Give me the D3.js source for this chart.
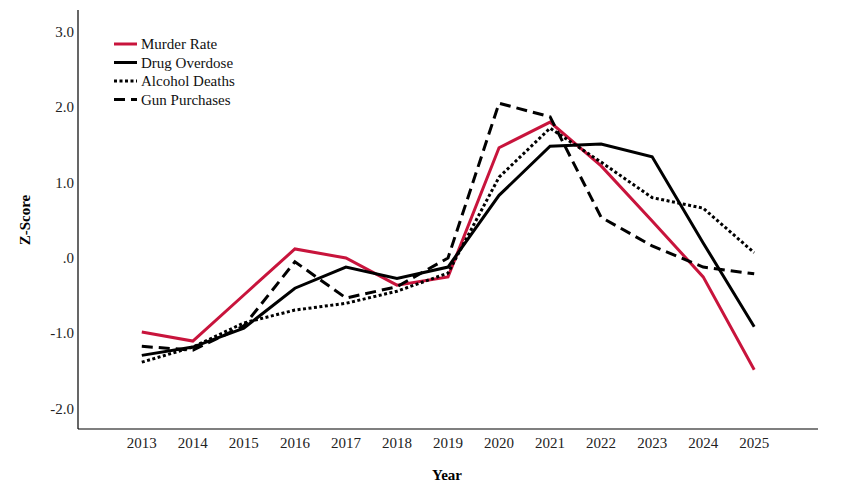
<!DOCTYPE html>
<html>
<head>
    <meta charset="utf-8">
    <script src="https://d3js.org/d3.v7.min.js"></script>
    <style>
        body { margin: 0; background: #fff; }
        text { font-family: "Liberation Serif", "DejaVu Serif", serif; }
    </style>
</head>
<body>
    <svg id="chart" width="853" height="503"></svg>
    <script>
        const years = ["2013", "2014", "2015", "2016", "2017", "2018", "2019", "2020", "2021", "2022", "2023", "2024", "2025"];
        const murderRate = [-0.98, -1.10, -0.49, 0.12, 0.00, -0.36, -0.25, 1.46, 1.80, 1.22, 0.49, -0.25, -1.48];
        const drugOverdose = [-1.29, -1.18, -0.93, -0.40, -0.12, -0.27, -0.12, 0.83, 1.48, 1.51, 1.34, 0.20, -0.91];
        const alcoholDeaths = [-1.38, -1.18, -0.86, -0.69, -0.60, -0.44, -0.20, 1.07, 1.72, 1.27, 0.80, 0.66, 0.07];
        const gunPurchases = [-1.17, -1.22, -0.90, -0.05, -0.53, -0.38, 0.00, 2.05, 1.87, 0.54, 0.16, -0.12, -0.21];
        const yTicks = [-2, -1, 0, 1, 2, 3];

        const series = [
            { name: "Murder Rate", values: murderRate, color: "#c8143c", dash: null },
            { name: "Drug Overdose", values: drugOverdose, color: "#000", dash: null },
            { name: "Alcohol Deaths", values: alcoholDeaths, color: "#000", dash: "3,2.5" },
            { name: "Gun Purchases", values: gunPurchases, color: "#000", dash: "11,6" }
        ];

        const svg = d3.select("#chart");
        const plotL = 78, plotR = 818, plotT = 10, plotB = 429;

        const x = d3.scalePoint().domain(years).range([plotL, plotR]).padding(1.25);
        const y = d3.scaleLinear().domain([-2.265, 3.285]).range([plotB, plotT]);

        // axis lines
        svg.append("line").attr("x1", plotL).attr("x2", plotL).attr("y1", plotT).attr("y2", plotB)
            .attr("stroke", "#000").attr("stroke-width", 1.2);
        svg.append("line").attr("x1", plotL).attr("x2", plotR).attr("y1", plotB).attr("y2", plotB)
            .attr("stroke", "#000").attr("stroke-width", 1.2);

        // SPSS style: ".0" for zero, plain hyphen for negatives
        const fmt = v => v === 0 ? ".0" : v.toFixed(1);

        svg.append("g").selectAll("text").data(yTicks).join("text")
            .attr("x", plotL - 4)
            .attr("y", d => y(d) + 5)
            .attr("text-anchor", "end")
            .attr("font-size", 15)
            .attr("fill", "#222")
            .text(fmt);

        svg.append("g").selectAll("text").data(years).join("text")
            .attr("x", d => x(d))
            .attr("y", 448)
            .attr("text-anchor", "middle")
            .attr("font-size", 15)
            .attr("fill", "#222")
            .text(d => d);

        svg.append("text")
            .attr("x", 447).attr("y", 480)
            .attr("text-anchor", "middle")
            .attr("font-size", 15).attr("font-weight", "bold")
            .text("Year");

        svg.append("text")
            .attr("transform", "translate(30,220) rotate(-90)")
            .attr("text-anchor", "middle")
            .attr("font-size", 15).attr("font-weight", "bold")
            .text("Z-Score");

        const lineGen = d3.line()
            .x((d, i) => x(years[i]))
            .y(d => y(d));

        svg.append("g").selectAll("path").data(series).join("path")
            .attr("d", d => lineGen(d.values))
            .attr("fill", "none")
            .attr("stroke", d => d.color)
            .attr("stroke-width", 3)
            .attr("stroke-dasharray", d => d.dash);

        // legend
        const legend = svg.append("g").selectAll("g").data(series).join("g")
            .attr("transform", (d, i) => `translate(114,${44 + i * 18.5})`);
        legend.append("line")
            .attr("x1", 0).attr("x2", 23)
            .attr("stroke", d => d.color)
            .attr("stroke-width", 3)
            .attr("stroke-dasharray", d => d.dash);
        legend.append("text")
            .attr("x", 27).attr("y", 5)
            .attr("font-size", 15)
            .attr("fill", "#111")
            .text(d => d.name);
    </script>
</body>
</html>
